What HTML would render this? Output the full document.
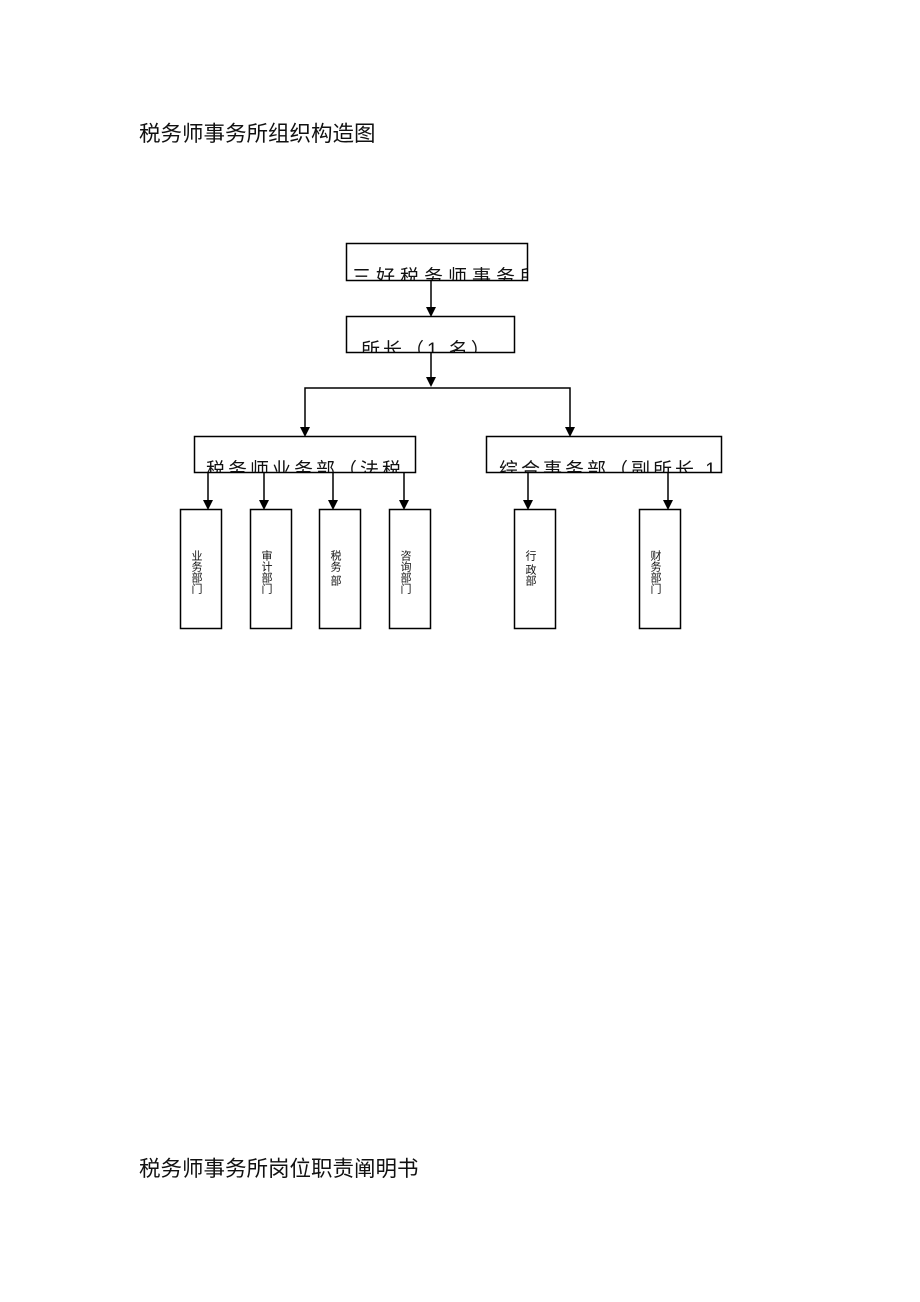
<!DOCTYPE html>
<html><head><meta charset="utf-8">
<style>
html,body{margin:0;padding:0;background:#fff;}
body{width:920px;height:1302px;position:relative;overflow:hidden;font-family:"Liberation Sans","Noto Sans CJK SC",sans-serif;}
.t{position:absolute;left:139px;font-size:21.5px;color:#111;white-space:nowrap;line-height:1;}
svg{position:absolute;left:0;top:0;}
svg text{font-family:"Liberation Sans","Noto Sans CJK SC",sans-serif;fill:#111;}
</style></head><body>
<div class="t" style="top:124px">税务师事务所组织构造图</div>
<div class="t" style="top:1159px">税务师事务所岗位职责阐明书</div>
<svg width="920" height="1302" viewBox="0 0 920 1302">
<defs>
<clipPath id="c1"><rect x="347" y="244" width="180" height="36"/></clipPath>
<clipPath id="c2"><rect x="347" y="317" width="167" height="35"/></clipPath>
<clipPath id="c3"><rect x="195" y="437" width="220" height="35"/></clipPath>
<clipPath id="c4"><rect x="487" y="437" width="234" height="35"/></clipPath>
</defs>
<g fill="none" stroke="#000" stroke-width="1.5">
<rect x="346.5" y="243.5" width="181" height="37"/>
<rect x="346.5" y="316.5" width="168" height="36"/>
<rect x="194.5" y="436.5" width="221" height="36"/>
<rect x="486.5" y="436.5" width="235" height="36"/>
<rect x="180.5" y="509.5" width="41" height="119"/>
<rect x="250.5" y="509.5" width="41" height="119"/>
<rect x="319.5" y="509.5" width="41" height="119"/>
<rect x="389.5" y="509.5" width="41" height="119"/>
<rect x="514.5" y="509.5" width="41" height="119"/>
<rect x="639.5" y="509.5" width="41" height="119"/>
<line x1="431" y1="281" x2="431" y2="308"/>
<line x1="431" y1="353" x2="431" y2="378"/>
<polyline points="305,428 305,388 570,388 570,428"/>
<line x1="208" y1="473" x2="208" y2="501"/>
<line x1="264" y1="473" x2="264" y2="501"/>
<line x1="333" y1="473" x2="333" y2="501"/>
<line x1="404" y1="473" x2="404" y2="501"/>
<line x1="528" y1="473" x2="528" y2="501"/>
<line x1="668" y1="473" x2="668" y2="501"/>
</g>
<g fill="#000">
<polygon points="426,307 436,307 431,317"/>
<polygon points="426,377 436,377 431,387"/>
<polygon points="300,427 310,427 305,437"/>
<polygon points="565,427 575,427 570,437"/>
<polygon points="203,500 213,500 208,510"/>
<polygon points="259,500 269,500 264,510"/>
<polygon points="328,500 338,500 333,510"/>
<polygon points="399,500 409,500 404,510"/>
<polygon points="523,500 533,500 528,510"/>
<polygon points="663,500 673,500 668,510"/>
</g>
<text x="352" y="283" font-size="19" letter-spacing="5" clip-path="url(#c1)">三好税务师事务所</text>
<text x="361" y="356" font-size="19" letter-spacing="3" clip-path="url(#c2)">所长（1 名）</text>
<text x="206" y="476" font-size="19" letter-spacing="3" clip-path="url(#c3)">税务师业务部（法税</text>
<text x="499" y="476" font-size="19" letter-spacing="3" clip-path="url(#c4)">综合事务部（副所长 1 名）</text>
<g font-size="11" fill="#444">
<text x="196" y="550" writing-mode="tb">业务部门</text>
<text x="266" y="550" writing-mode="tb">审计部门</text>
<text x="335" y="550" writing-mode="tb">税务 部</text>
<text x="405" y="550" writing-mode="tb">咨询部门</text>
<text x="530" y="550" writing-mode="tb">行 政部</text>
<text x="655" y="550" writing-mode="tb">财务部门</text>
</g>
</svg>
</body></html>
